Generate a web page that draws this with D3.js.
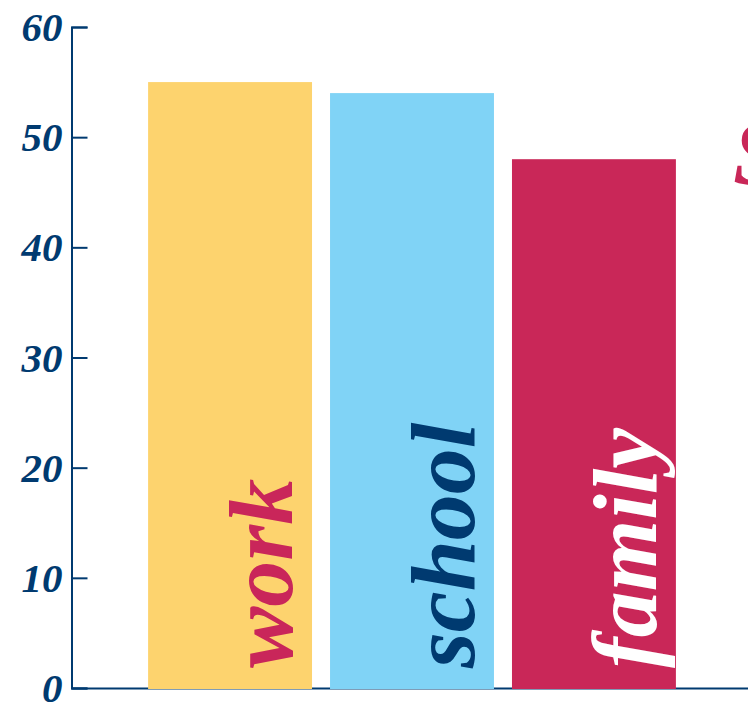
<!DOCTYPE html>
<html>
<head>
<meta charset="utf-8">
<script src="https://cdn.jsdelivr.net/npm/d3@7"></script>
<style>
  html, body { margin: 0; padding: 0; background: #fff; overflow: hidden; }
  svg { display: block; }
</style>
</head>
<body>
<svg id="chart" width="748" height="702"></svg>
<script>
// Share of answers per category
const categories = ["work", "school", "family"];
const values = [55, 54, 48];
const barColors = ["#fdd36e", "#80d3f6", "#c92758"];
const labelColors = ["#c9265a", "#003a70", "#ffffff"];
const yTicks = [0, 10, 20, 30, 40, 50, 60];
const headline = "S";

const navy = "#003a70";
const labelFont = "'Liberation Serif', 'DejaVu Serif', serif";

const svg = d3.select("#chart");

const y = d3.scaleLinear().domain([0, 60]).range([688, 27]);
const x = d3.scaleBand()
  .domain(categories)
  .range([139, 685])
  .paddingInner(0.099)
  .paddingOuter(0.05);

// Horizontal baseline (bars sit on top of it)
svg.append("line")
  .attr("x1", 71.5).attr("x2", 748)
  .attr("y1", y(0) + 0.5).attr("y2", y(0) + 0.5)
  .attr("stroke", navy).attr("stroke-width", 2);

// Bars
svg.append("g")
  .selectAll("rect")
  .data(categories)
  .join("rect")
  .attr("x", d => x(d))
  .attr("y", (d, i) => y(values[i]))
  .attr("width", x.bandwidth())
  .attr("height", (d, i) => y(0) - y(values[i]) + 1)
  .attr("fill", (d, i) => barColors[i]);

// Vertical axis with inward ticks
const yAxis = svg.append("g")
  .attr("transform", "translate(71.5,0)")
  .call(d3.axisLeft(y).tickValues(yTicks).tickSize(-16).tickPadding(26));
yAxis.select(".domain").attr("stroke", navy).attr("stroke-width", 2);
yAxis.selectAll(".tick line").attr("stroke", navy).attr("stroke-width", 2);
yAxis.selectAll(".tick text")
  .attr("fill", navy)
  .attr("font-family", labelFont)
  .attr("font-style", "italic")
  .attr("font-weight", "bold")
  .attr("font-size", 41)
  .attr("x", -9)
  .attr("dy", "0.33em");

// Vertical category labels inside the bars
svg.append("g")
  .selectAll("text")
  .data(categories)
  .join("text")
  .attr("transform", d => `translate(${x(d) + x.bandwidth() - 20},${y(0) - 20}) rotate(-90)`)
  .attr("fill", (d, i) => labelColors[i])
  .attr("font-family", labelFont)
  .attr("font-style", "italic")
  .attr("font-weight", "bold")
  .attr("font-size", 92)
  .text(d => d);

// Headline running off the right edge
svg.append("text")
  .attr("x", 733)
  .attr("y", 184)
  .attr("fill", "#c92758")
  .attr("font-family", labelFont)
  .attr("font-style", "italic")
  .attr("font-weight", "bold")
  .attr("font-size", 92)
  .text(headline);
</script>
</body>
</html>
